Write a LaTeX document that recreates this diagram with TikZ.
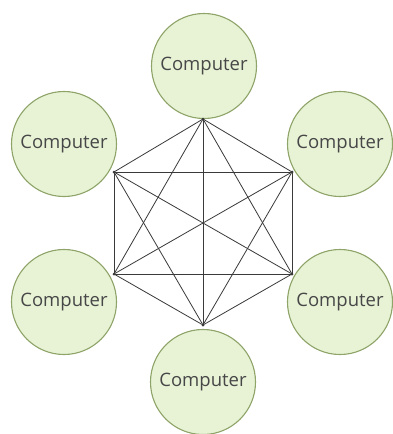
\documentclass[tikz,border=0pt]{standalone}
\usepackage{fontspec}
\setmainfont{Open Sans}
\definecolor{pc}{HTML}{E8F3D6}
\definecolor{pcline}{HTML}{8FA468}
\definecolor{link}{HTML}{3A3A3A}
\begin{document}
\begin{tikzpicture}[x=1pt,y=-1pt,
  pcnode/.style={circle,draw=pcline,line width=1.1pt,fill=pc,minimum size=105pt,inner sep=0pt,
    font=\fontsize{18.5}{22}\selectfont,text=black!72},
  linkline/.style={draw=link,line width=0.8pt},
  vtx/.style={circle,fill=link,inner sep=0pt,minimum size=3pt}]
\useasboundingbox (0,0) rectangle (393,434);
\fill[white] (0,0) rectangle (393,434);
\node[pcnode] (c1) at (204,66) {Computer};
\node[pcnode] (c2) at (64,144) {Computer};
\node[pcnode] (c3) at (340,144) {Computer};
\node[pcnode] (c4) at (64,302) {Computer};
\node[pcnode] (c5) at (340,302) {Computer};
\node[pcnode] (c6) at (203,382) {Computer};
\node[vtx] (v1) at (203,119) {};
\node[vtx] (v2) at (114,172) {};
\node[vtx] (v3) at (292,172) {};
\node[vtx] (v4) at (114,274) {};
\node[vtx] (v5) at (292,274) {};
\node[vtx] (v6) at (203,325) {};
\foreach \a/\b in {v1/v2,v1/v3,v1/v4,v1/v5,v1/v6,v2/v3,v2/v4,v2/v5,v2/v6,v3/v4,v3/v5,v3/v6,v4/v5,v4/v6,v5/v6}
  \draw[linkline] (\a.center) -- (\b.center);
\end{tikzpicture}
\end{document}
